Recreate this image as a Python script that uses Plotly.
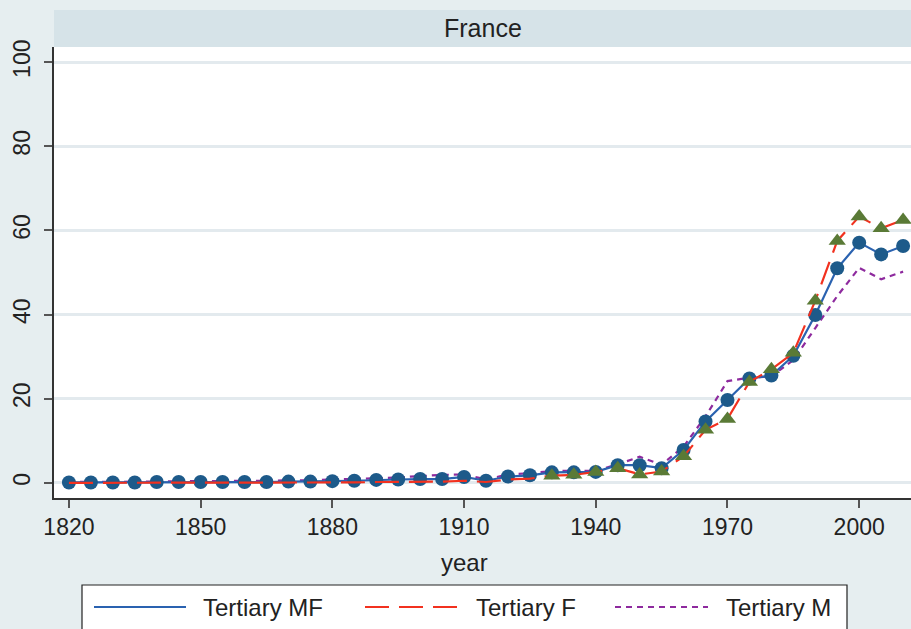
import plotly.graph_objects as go

# tertiary enrolment, France, every 5 years
years = [1820, 1825, 1830, 1835, 1840, 1845, 1850, 1855, 1860, 1865,
         1870, 1875, 1880, 1885, 1890, 1895, 1900, 1905, 1910, 1915,
         1920, 1925, 1930, 1935, 1940, 1945, 1950, 1955, 1960, 1965,
         1970, 1975, 1980, 1985, 1990, 1995, 2000, 2005, 2010]
tertiary_mf = [0.1, 0.1, 0.1, 0.1, 0.2, 0.2, 0.2, 0.2, 0.2, 0.2,
               0.3, 0.3, 0.4, 0.5, 0.7, 0.8, 0.9, 0.9, 1.4, 0.5,
               1.5, 1.8, 2.5, 2.5, 2.6, 4.2, 4.2, 3.5, 7.8, 14.6,
               19.7, 24.8, 25.5, 30.2, 39.9, 51.0, 57.1, 54.3, 56.3]
tertiary_f = [0.0, 0.0, 0.0, 0.0, 0.0, 0.0, 0.1, 0.1, 0.1, 0.1,
              0.1, 0.1, 0.1, 0.1, 0.2, 0.2, 0.2, 0.3, 0.5, 0.2,
              0.8, 1.0, 1.7, 1.9, 2.6, 3.5, 2.0, 2.7, 6.3, 12.6,
              15.2, 24.0, 27.0, 30.9, 43.3, 57.5, 63.3, 60.5, 62.5]
tertiary_m = [0.2, 0.2, 0.2, 0.3, 0.3, 0.4, 0.4, 0.4, 0.5, 0.5,
              0.6, 0.6, 0.8, 0.9, 1.1, 1.3, 1.6, 1.9, 2.0, 0.8,
              2.0, 2.3, 2.8, 2.9, 2.8, 4.4, 6.2, 4.3, 8.6, 15.8,
              24.2, 25.0, 25.3, 29.2, 36.8, 44.4, 51.1, 48.4, 50.2]
f_marker_start = 1930

x_ticks = [1820, 1850, 1880, 1910, 1940, 1970, 2000]
y_ticks = [0, 20, 40, 60, 80, 100]
legend_labels = ["Tertiary MF", "Tertiary F", "Tertiary M"]

BG = "#e6eef0"
STRIP = "#d6e3e8"
GRID = "#e3eaee"
BLUE_LINE = "#2a62b0"
BLUE_MARK = "#1d5a8a"
RED = "#f2311f"
OLIVE = "#5a7a36"
PURPLE = "#8e2a9e"
FONT = "Liberation Sans, Arial, sans-serif"

F_DASH = "24px,10px"
M_DASH = "6px,5px"

# plot area in pixels, used for the hand-drawn legend and strip
L, R, T, B = 54, 911, 47, 498


def px(p):
    return (p - L) / (R - L)


def py(p):
    return (B - p) / (B - T)


fig = go.Figure()

fig.add_trace(go.Scatter(x=years, y=tertiary_m, mode="lines",
                         line=dict(color=PURPLE, width=2.2, dash=M_DASH),
                         showlegend=False, hoverinfo="skip"))
fig.add_trace(go.Scatter(x=years, y=tertiary_mf, mode="lines",
                         line=dict(color=BLUE_LINE, width=2.2),
                         showlegend=False))
fig.add_trace(go.Scatter(x=years, y=tertiary_mf, mode="markers",
                         marker=dict(color=BLUE_MARK, size=14, symbol="circle"),
                         showlegend=False))
fig.add_trace(go.Scatter(x=years, y=tertiary_f, mode="lines",
                         line=dict(color=RED, width=2.2, dash=F_DASH),
                         showlegend=False))
f_x = [yr for yr in years if yr >= f_marker_start]
f_y = [v for yr, v in zip(years, tertiary_f) if yr >= f_marker_start]
fig.add_trace(go.Scatter(x=f_x, y=f_y, mode="markers",
                         marker=dict(color=OLIVE, size=15, symbol="triangle-up"),
                         showlegend=False))

shapes = []
# title strip
shapes.append(dict(type="rect", xref="paper", yref="paper", x0=0, x1=1,
                   y0=1, y1=py(10), fillcolor=STRIP, line=dict(width=0), layer="below"))
# legend box
shapes.append(dict(type="rect", xref="paper", yref="paper", x0=px(82), x1=px(847),
                   y0=py(645), y1=py(585), fillcolor="white",
                   line=dict(color="#222222", width=1.2), layer="below"))
sample_spans = [(94, 186), (365, 458), (615, 708)]
sample_styles = [(BLUE_LINE, "solid"), (RED, F_DASH), (PURPLE, M_DASH)]
for (a, b), (col, dash) in zip(sample_spans, sample_styles):
    shapes.append(dict(type="line", xref="paper", yref="paper", x0=px(a), x1=px(b),
                       y0=py(607), y1=py(607), line=dict(color=col, width=2.2, dash=dash)))

annotations = [
    dict(text="France", xref="paper", yref="paper", x=0.5, y=py(28),
         yanchor="middle", showarrow=False,
         font=dict(size=25, color="#222222", family=FONT)),
    dict(text="year", xref="paper", yref="paper", x=px(464), y=py(562),
         yanchor="middle", showarrow=False,
         font=dict(size=24, color="#222222", family=FONT)),
]
for label, x0 in zip(legend_labels, [201, 474, 724]):
    annotations.append(dict(text=label, xref="paper", yref="paper", x=px(x0), y=py(607),
                            xanchor="left", yanchor="middle", showarrow=False,
                            font=dict(size=24, color="#222222", family=FONT)))

fig.update_layout(
    width=911, height=629,
    margin=dict(l=L, r=911 - R, t=T, b=629 - B),
    paper_bgcolor=BG, plot_bgcolor="white",
    font=dict(family=FONT, size=23, color="#222222"),
    showlegend=False,
    shapes=shapes,
    annotations=annotations,
    xaxis=dict(range=[1816.6, 2011.8], tickvals=x_ticks, showgrid=False,
               zeroline=False, showline=True, linecolor="#333333", linewidth=1.5,
               ticks="outside", ticklen=8, tickcolor="#555555", tickwidth=1.5,
               tickfont=dict(size=23)),
    yaxis=dict(range=[-3.6, 103.6], tickvals=y_ticks, showgrid=True,
               gridcolor=GRID, gridwidth=2.5, zeroline=False, showline=True,
               linecolor="#333333", linewidth=1.5, ticks="outside", ticklen=8,
               tickcolor="#555555", tickwidth=1.5, tickangle=-90,
               ticklabelstandoff=5, tickfont=dict(size=23)),
)

# page body has a default 8px margin; drop it so the figure fills the window
fig.write_html("out.html", config={"displayModeBar": False},
               post_script="document.body.style.margin='0';")
